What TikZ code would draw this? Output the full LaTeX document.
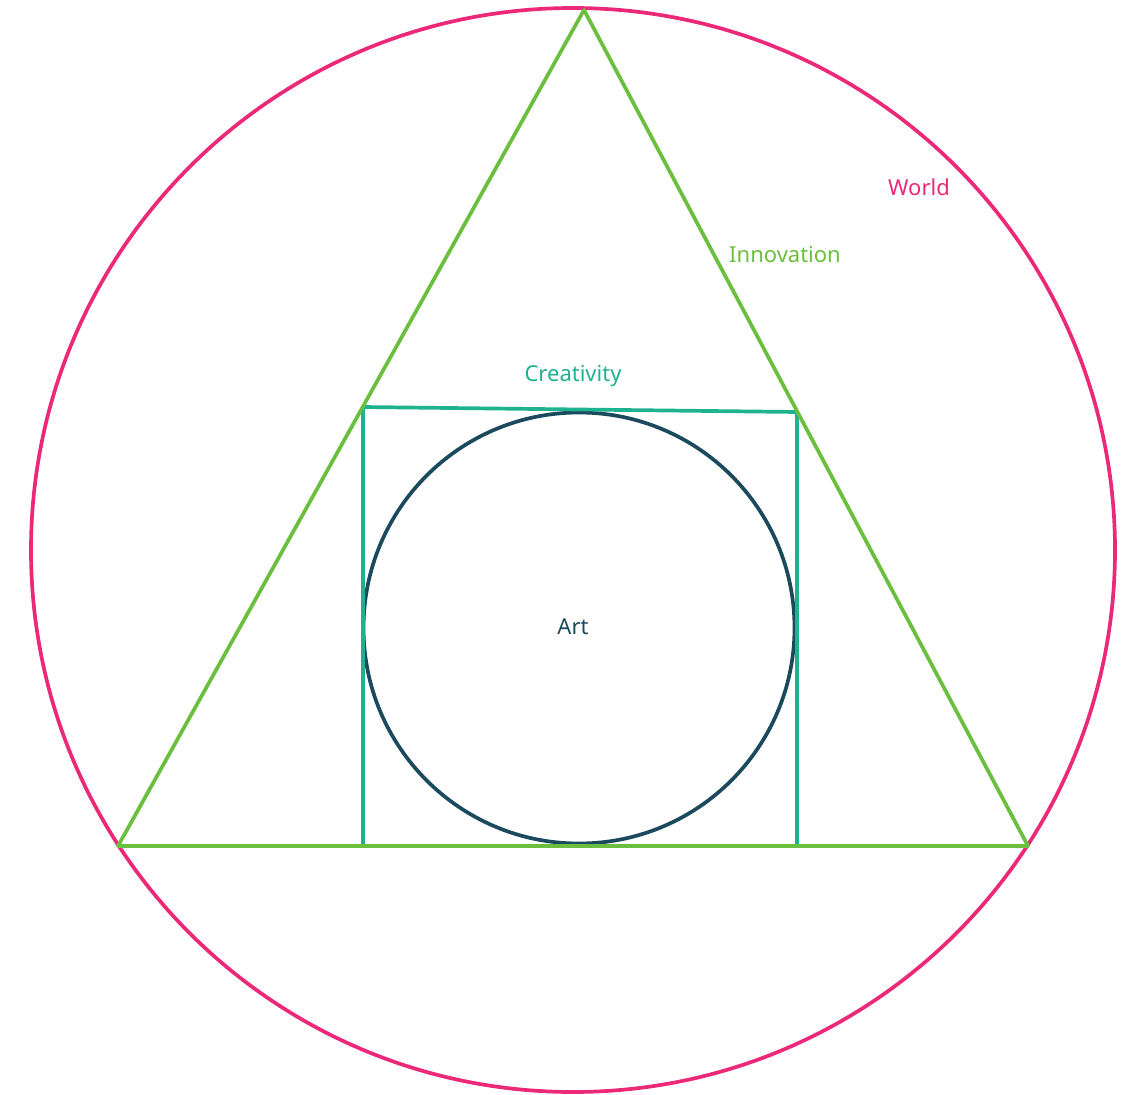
\documentclass[tikz,border=0pt]{standalone}
\usepackage{fontspec}
\setmainfont{Noto Sans}
\definecolor{worldpink}{HTML}{EC2878}
\definecolor{innogreen}{HTML}{6ABF3E}
\definecolor{createal}{HTML}{1EB28E}
\definecolor{artblue}{HTML}{1B4A5E}
\begin{document}
\begin{tikzpicture}[
        x=1pt, y=-1pt,
        ring/.style={draw, circle, inner sep=0pt, line width=3.7pt},
        tag/.style={font=\fontsize{22}{26}\selectfont, inner sep=0pt},
        edge/.style={line width=3.7pt, line join=round}
    ]
        \useasboundingbox (0,0) rectangle (1122,1095);
        % outer world circle and inner art circle
        \node[ring, worldpink, minimum size=1084pt] (world) at (573,550) {};
        \node[ring, artblue, minimum size=431pt] (art) at (579,628) {};
        % triangle corners
        \coordinate (apex) at (584,10);
        \coordinate (baseL) at (118,846);
        \coordinate (baseR) at (1028,846);
        % square corners
        \coordinate (sqTL) at (363,407);
        \coordinate (sqTR) at (797,412);
        \coordinate (sqBL) at (363,846);
        \coordinate (sqBR) at (797,846);
        \draw[edge, createal] (sqBL) -- (sqTL) -- (sqTR) -- (sqBR);
        \draw[edge, innogreen] (apex) -- (baseR) -- (baseL) -- cycle;
        % labels
        \node[tag, text=worldpink] (worldlbl) at (919,187) {World};
        \node[tag, text=innogreen] (innolbl) at (785,254) {Innovation};
        \node[tag, text=createal] (crealbl) at (573,376) {Creativity};
        \node[tag, text=artblue] (artlbl) at (573,627) {Art};
    \end{tikzpicture}
\end{document}
